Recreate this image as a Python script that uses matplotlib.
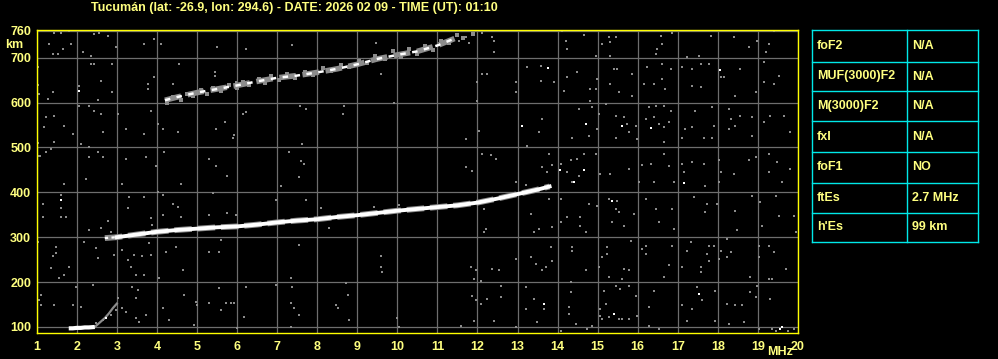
import numpy as np
import matplotlib
matplotlib.use("Agg")
import matplotlib.pyplot as plt
from matplotlib.lines import Line2D

# ---------------- data ----------------
title = "Tucumán (lat: -26.9, lon: 294.6) - DATE: 2026 02 09 - TIME (UT): 01:10"

x_ticks = list(range(1, 21))
y_ticks = [100, 200, 300, 400, 500, 600, 700, 760]

# F2 trace (1st hop)  MHz / km
lower_f = [2.7, 3.0, 3.5, 4.0, 4.5, 5.0, 5.5, 6.0, 6.5, 7.0, 7.5, 8.0, 8.5, 9.0,
           9.5, 10.0, 10.5, 11.0, 11.5, 12.0, 12.5, 13.0, 13.5, 13.8]
lower_h = [298, 300, 306, 312, 316, 319, 322, 324, 328, 333, 337, 340, 345, 349,
           354, 359, 363, 367, 371, 377, 386, 396, 406, 413]

# F2 trace (2nd hop)
upper_f = [4.2, 4.5, 5.0, 5.5, 6.0, 6.5, 7.0, 7.5, 8.0, 8.5, 9.0, 9.5, 10.0,
           10.5, 11.0, 11.5]
upper_h = [605, 612, 622, 630, 638, 647, 655, 660, 667, 675, 685, 697, 706,
           714, 727, 745]

# Es trace
es_f = [1.8, 1.9, 2.0, 2.1, 2.2, 2.3, 2.45]
es_h = [97, 97, 98, 98, 99, 99, 100]
es_tail_f = [2.45, 2.6, 2.7, 2.8, 2.9, 3.0]
es_tail_h = [100, 112, 120, 130, 142, 152]

# scattered gray echoes (MHz, km)
noise_points = [
    (1.44, 755), (1.61, 755), (1.81, 760), (1.31, 730), (1.40, 708), (1.52, 708),
    (1.65, 719), (1.86, 730), (2.15, 712), (2.35, 704), (2.44, 752), (2.56, 755),
    (2.77, 749), (2.35, 686), (2.44, 686), (2.89, 686), (2.60, 649), (2.06, 637),
    (1.40, 623), (1.27, 608), (2.52, 606), (2.89, 623), (2.98, 723), (3.69, 730),
    (3.93, 741), (4.10, 730), (4.56, 686), (5.51, 723), (6.22, 719), (7.38, 727),
    (9.46, 732), (4.39, 641), (5.45, 667), (5.46, 660), (3.77, 641), (3.77, 630),
    (3.93, 656), (2.06, 593), (2.31, 593), (2.44, 582), (2.60, 574), (3.02, 574),
    (3.85, 582), (1.23, 567), (1.44, 570), (1.69, 548), (1.19, 545), (1.90, 530),
    (2.65, 534), (3.23, 541), (3.69, 530), (4.02, 552), (4.14, 541), (4.52, 534),
    (5.47, 541), (5.71, 556), (5.93, 527), (6.14, 574), (6.22, 579), (7.57, 593),
    (7.73, 585), (8.67, 593), (8.65, 574), (9.92, 600), (2.31, 500), (2.52, 489),
    (2.65, 478), (2.31, 478), (1.36, 496), (1.23, 489), (1.07, 481), (3.23, 474),
    (3.73, 478), (4.18, 489), (3.97, 459), (5.30, 474), (5.47, 459), (5.76, 437),
    (4.60, 418), (3.14, 418), (2.23, 430), (1.69, 418), (7.30, 489), (7.59, 470),
    (7.67, 463), (7.55, 433), (7.09, 413), (7.63, 507), (9.59, 663), (5.97, 645),
    (5.89, 522), (1.44, 511), (2.10, 507), (1.03, 680), (1.03, 640), (1.05, 620),
    (1.03, 510), (1.05, 480), (1.03, 290), (1.05, 160),
    (12.12, 755), (12.37, 747), (12.41, 738), (12.41, 712), (14.12, 760), (14.66, 750),
    (15.28, 745), (15.45, 745), (15.32, 734), (15.11, 730), (16.57, 749), (16.86, 755),
    (17.53, 704), (17.82, 749), (18.40, 745), (18.77, 723), (18.98, 738), (19.19, 712),
    (19.40, 760), (19.27, 730), (14.20, 738), (14.24, 719), (14.95, 704), (15.32, 704),
    (16.49, 719), (16.61, 730), (16.45, 708), (17.23, 701), (19.15, 690), (11.71, 745),
    (11.54, 738), (11.79, 732), (12.12, 664), (12.25, 664), (12.00, 645), (12.95, 645),
    (13.24, 678), (13.58, 682), (13.58, 649), (13.91, 645), (14.16, 626), (14.24, 656),
    (14.49, 667), (14.82, 630), (14.82, 604), (14.95, 630), (14.99, 652), (15.41, 675),
    (15.49, 675), (15.32, 641), (15.86, 664), (15.53, 623), (15.86, 615), (16.15, 641),
    (16.24, 678), (16.40, 641), (16.61, 686), (16.82, 675), (16.61, 652), (16.69, 630),
    (17.11, 678), (17.36, 675), (17.57, 686), (17.77, 686), (17.36, 637), (17.57, 634),
    (18.07, 656), (18.15, 656), (18.56, 675), (18.94, 623), (18.44, 615), (19.15, 645),
    (19.40, 641), (19.52, 660), (12.00, 604), (12.95, 623), (12.04, 537), (11.71, 519),
    (13.62, 563), (13.54, 534), (13.24, 504), (14.53, 586), (14.87, 589), (15.03, 574),
    (14.37, 522), (14.78, 526), (14.99, 541), (15.20, 597), (15.45, 571), (15.66, 567),
    (15.74, 552), (15.95, 548), (15.78, 534), (15.45, 522), (15.99, 519), (16.28, 589),
    (16.45, 593), (16.65, 593), (16.82, 582), (16.20, 563), (16.40, 567), (16.53, 552),
    (16.65, 545), (16.78, 556), (16.65, 511), (17.19, 541), (17.36, 545), (17.11, 522),
    (17.44, 582), (17.86, 589), (17.90, 548), (17.65, 522), (17.86, 522), (18.27, 586),
    (18.32, 563), (18.27, 541), (18.56, 571), (18.44, 548), (18.86, 567), (18.86, 526),
    (19.15, 556), (19.31, 571), (19.65, 571), (19.81, 534), (12.12, 485), (12.33, 482),
    (12.46, 474), (11.71, 456), (11.87, 448), (13.62, 456), (13.74, 445), (13.87, 460),
    (13.79, 485), (14.08, 463), (14.33, 471), (14.49, 474), (14.66, 485), (14.95, 485),
    (14.24, 445), (14.53, 437), (14.37, 422), (15.07, 441), (15.32, 441), (15.78, 452),
    (16.11, 460), (16.32, 463), (16.65, 485), (16.78, 459), (17.11, 463), (17.15, 445),
    (17.36, 467), (17.65, 463), (18.02, 471), (18.07, 445), (18.40, 441), (18.77, 471),
    (18.94, 478), (19.27, 485), (19.48, 467), (19.27, 445), (19.81, 452), (19.60, 422),
    (12.95, 422), (13.20, 416), (16.03, 422), (16.40, 422), (16.90, 422), (17.69, 415),
    (18.02, 422),
    (12.16, 363), (12.21, 318), (12.16, 311), (13.33, 352), (13.41, 311), (13.54, 318),
    (13.79, 385), (13.87, 322), (14.08, 385), (14.08, 333), (14.24, 344), (14.57, 344),
    (14.57, 326), (14.70, 311), (14.78, 374), (14.99, 370), (15.28, 385), (15.45, 363),
    (15.49, 381), (15.53, 355), (15.36, 333), (15.66, 326), (15.90, 352), (16.20, 385),
    (16.45, 363), (16.53, 333), (16.86, 363), (16.90, 318), (17.40, 389), (17.73, 374),
    (17.69, 355), (17.98, 374), (18.44, 359), (18.48, 315), (18.86, 392), (19.06, 378),
    (19.44, 392), (19.52, 348), (19.89, 348), (19.10, 326), (19.94, 311), (13.83, 278),
    (14.37, 278), (14.37, 270), (13.87, 248), (13.33, 255), (13.45, 240), (12.95, 251),
    (13.62, 226), (13.70, 233), (11.83, 233), (12.37, 229), (11.96, 226), (12.54, 226),
    (14.70, 226), (15.03, 233), (15.11, 255), (15.24, 278), (15.24, 263), (15.28, 211),
    (15.61, 207), (15.66, 229), (15.78, 226), (15.82, 292), (16.11, 274), (16.20, 263),
    (16.20, 281), (16.65, 211), (16.78, 237), (17.11, 233), (16.86, 281), (17.23, 270),
    (17.32, 289), (17.57, 233), (17.57, 222), (17.77, 281), (17.73, 263), (17.77, 248),
    (17.90, 281), (18.02, 252), (18.07, 270), (18.23, 255), (18.32, 266), (18.23, 296),
    (19.02, 281), (19.27, 281), (19.40, 266), (19.02, 255), (19.69, 229), (18.81, 211),
    (19.27, 207), (19.35, 207), (11.91, 207), (12.08, 203), (12.58, 192), (11.87, 170),
    (11.96, 159), (12.25, 162), (12.08, 151), (12.58, 166), (13.20, 188), (13.41, 162),
    (13.66, 140), (13.20, 140), (14.33, 200), (14.33, 177), (14.28, 144), (14.28, 129),
    (15.07, 140), (15.07, 125), (15.16, 181), (15.20, 151), (15.45, 192), (15.57, 185),
    (15.78, 192), (15.95, 170), (15.99, 125), (16.28, 144), (16.40, 181), (17.11, 148),
    (17.36, 140), (17.48, 188), (17.61, 159), (17.94, 181), (18.23, 151), (18.44, 148),
    (18.61, 148), (18.81, 177), (18.98, 192), (19.31, 162), (18.94, 166), (15.11, 118),
    (15.53, 118), (15.61, 118), (15.28, 122), (15.78, 118), (16.28, 103), (16.53, 96),
    (17.23, 114), (17.94, 114), (18.27, 107), (18.65, 110), (19.02, 96), (19.35, 96),
    (11.58, 103), (11.91, 114), (12.41, 114), (13.49, 110), (14.45, 107), (14.74, 96),
    (14.87, 103), (14.08, 92), (12.95, 99), (19.75, 92), (19.90, 95), (19.45, 92),
    (1.61, 394), (1.15, 375), (1.15, 346), (1.61, 364), (1.61, 346), (1.73, 346),
    (2.31, 316), (2.60, 320), (2.77, 335), (2.85, 312), (3.31, 390), (3.27, 364),
    (3.69, 390), (3.85, 342), (3.89, 327), (4.02, 401), (4.14, 394), (4.14, 349),
    (4.39, 375), (4.52, 368), (4.60, 346), (5.31, 349), (5.39, 398), (5.76, 353),
    (5.97, 349), (6.97, 383), (7.72, 383), (8.09, 364), (8.30, 320), (9.42, 368),
    (10.04, 372), (2.19, 290), (1.48, 279), (1.48, 264), (1.40, 257), (2.48, 275),
    (2.52, 253), (2.94, 260), (3.14, 272), (3.27, 249), (3.44, 260), (3.35, 234),
    (3.64, 257), (3.81, 286), (3.85, 260), (4.22, 268), (4.47, 279), (4.64, 227),
    (5.31, 268), (5.55, 268), (5.60, 294), (7.55, 283), (9.59, 257), (9.59, 234),
    (9.63, 223), (1.36, 231), (1.81, 234), (1.69, 216), (1.56, 208), (3.48, 216),
    (3.69, 216), (4.06, 208), (3.52, 182), (1.98, 190), (1.11, 171), (1.11, 149),
    (2.40, 194), (3.02, 164), (3.48, 164), (3.14, 142), (3.23, 134), (2.98, 138),
    (2.85, 127), (3.39, 190), (3.73, 127), (4.14, 142), (4.31, 116), (4.68, 171),
    (4.97, 156), (5.01, 149), (5.31, 153), (5.55, 186), (5.60, 138), (5.72, 153),
    (5.85, 153), (5.93, 153), (6.18, 123), (6.22, 190), (6.97, 194), (7.34, 208),
    (7.38, 190), (7.34, 153), (7.43, 142), (7.55, 127), (7.34, 101), (8.46, 149),
    (8.51, 142), (8.71, 197), (8.76, 171), (8.80, 116), (10.00, 119), (10.04, 101),
    (1.44, 149), (1.90, 149), (2.11, 145), (2.48, 108), (2.65, 116), (3.48, 119),
    (3.56, 112), (4.93, 104), (6.01, 97),
]

# gray speckle around the 2nd-hop trace (MHz, km)
band_points = [
    (4.25, 600), (4.4, 612), (4.6, 606), (4.75, 620), (4.9, 615), (5.1, 628),
    (5.25, 618), (5.4, 632), (5.6, 626), (5.8, 640), (6.0, 632), (6.15, 646),
    (6.3, 638), (6.55, 652), (6.7, 644), (6.85, 660), (7.05, 650), (7.25, 664),
    (7.45, 655), (7.7, 668), (7.9, 662), (8.15, 676), (8.35, 670), (8.6, 684),
    (8.8, 678), (9.05, 692), (9.25, 688), (9.45, 704), (9.7, 698), (9.9, 714),
    (10.1, 702), (10.3, 720), (10.5, 708), (10.7, 726), (10.9, 718), (11.1, 738),
    (11.3, 732), (11.5, 750), (11.65, 744), (11.9, 752),
]

# isolated bright echoes
white_points = [
    (13.77, 677), (18.05, 673), (14.06, 450), (14.67, 450), (14.42, 422), (17.15, 421),
    (13.77, 413), (16.32, 543), (15.61, 548), (14.70, 552), (13.12, 548), (15.36, 381),
    (13.66, 151), (17.53, 174), (15.42, 129), (19.60, 99), (1.61, 383), (2.73, 119),
    (2.05, 625), (1.00, 600), (19.55, 95),
]

table_params = ["foF2", "MUF(3000)F2", "M(3000)F2", "fxI", "foF1", "ftEs", "h'Es"]
table_values = ["N/A", "N/A", "N/A", "N/A", "NO", "2.7 MHz", "99 km"]

# ---------------- style ----------------
W, H = 998, 359
YEL = "#ffff80"
BORDER = "#ffff00"
GRID = "#6e6e6e"
DOT = "#8c8c8c"
CYAN = "#00e8e8"
FONT = ["Liberation Sans", "DejaVu Sans"]
FS = 9.0

plt.rcParams["font.family"] = FONT
plt.rcParams["font.weight"] = "bold"

fig = plt.figure(figsize=(W / 100, H / 100), dpi=100, facecolor="black")
ax = fig.add_axes([36.7 / W, 1 - 333 / H, (798 - 36.7) / W, (333 - 29.5) / H])
ax.set_facecolor("black")
ax.set_xlim(1, 20)
ax.set_ylim(86.6, 762.6)

ax.set_xticks(x_ticks)
ax.set_xticklabels([str(t) for t in x_ticks])
ax.set_yticks(y_ticks)
ax.set_yticklabels([str(t) for t in y_ticks])
ax.tick_params(length=0, colors=YEL, labelsize=FS, pad=4)
ax.tick_params(axis="x", pad=6)
for lab in ax.get_xticklabels() + ax.get_yticklabels():
    lab.set_fontweight("bold")
ax.grid(True, color=GRID, linewidth=0.9)
ax.set_axisbelow(True)
for sp in ax.spines.values():
    sp.set_color(BORDER)
    sp.set_linewidth(1.0)
    sp.set_zorder(10)

# noise
npts = np.array(noise_points)
ax.scatter(npts[:, 0], npts[:, 1], marker="s", s=3.6, color=DOT, linewidths=0, zorder=3)
bpts = np.array(band_points)
ax.scatter(bpts[:, 0], bpts[:, 1], marker="s", s=5, color=DOT, linewidths=0, zorder=3)
wpts = np.array(white_points)
ax.scatter(wpts[:, 0], wpts[:, 1], marker="s", s=3.6, color="white", linewidths=0, zorder=4)

# upper (2nd hop) trace: gray band with white speckles
ax.plot(upper_f, upper_h, color=DOT, lw=4.0, dashes=(3.0, 1.2), zorder=3)
ax.plot(upper_f, upper_h, color="white", lw=1.8, dashes=(2.2, 2.6), zorder=4)

# lower (1st hop) trace
ax.plot(lower_f, lower_h, color=DOT, lw=4.2, dashes=(3.0, 1.0), zorder=3)
ax.plot(lower_f[1:], lower_h[1:], color="white", lw=2.8, zorder=4)
ax.plot(lower_f[:4], lower_h[:4], color="white", lw=1.6, dashes=(1.5, 1.5), zorder=4.5)

# Es trace
ax.plot(es_tail_f, es_tail_h, color=DOT, lw=1.6, zorder=3)
ax.plot(es_f, es_h, color="white", lw=3.0, solid_capstyle="butt", zorder=4)

# title and axis unit labels
fig.text(91 / W, 1 - 7.5 / H, title, color=YEL, fontsize=FS, fontweight="bold",
         ha="left", va="center")
fig.text(14 / W, 1 - 45 / H, "km", color=YEL, fontsize=FS, fontweight="bold",
         ha="center", va="center")
fig.text(780 / W, 1 - 352 / H, "MHz", color=YEL, fontsize=FS, fontweight="bold",
         ha="center", va="center")

# parameter table
x0, xm, x1 = 812 / W, 907 / W, 978 / W
row_px = [30.3, 61.7, 91.3, 121.3, 151.7, 182.7, 212.7, 242.3]
ys = [1 - r / H for r in row_px]
for y in ys:
    fig.add_artist(Line2D([x0, x1], [y, y], color=CYAN, lw=1.0))
for x in (x0, xm, x1):
    fig.add_artist(Line2D([x, x], [ys[0], ys[-1]], color=CYAN, lw=1.0))
for i, (p, v) in enumerate(zip(table_params, table_values)):
    yc = (ys[i] + ys[i + 1]) / 2
    fig.text(817 / W, yc, p, color=YEL, fontsize=FS, fontweight="bold", ha="left", va="center")
    fig.text(912 / W, yc, v, color=YEL, fontsize=FS, fontweight="bold", ha="left", va="center")

fig.savefig("out.png", dpi=100, facecolor="black")
